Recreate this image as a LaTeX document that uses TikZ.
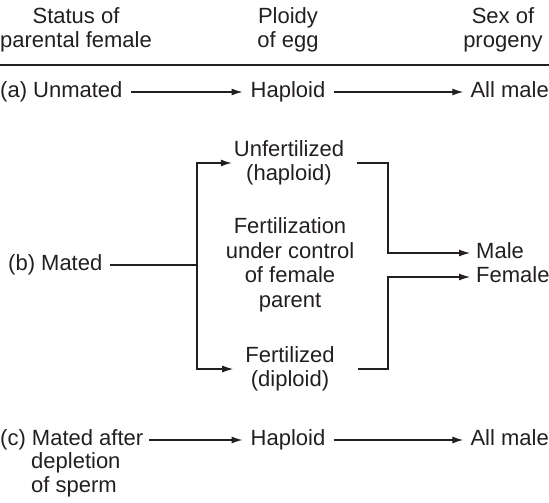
\documentclass[tikz,border=0pt]{standalone}
\usepackage{fontspec}
\setmainfont{Liberation Sans}
\usetikzlibrary{arrows.meta}
\definecolor{ink}{RGB}{35,31,32}

\begin{document}
\begin{tikzpicture}[
    x=1pt, y=-1pt,
    every node/.style={font=\fontsize{22}{24.5}\selectfont, text=ink}, % Шрифт
    txt/.style={inner sep=0pt, text height=15pt, text depth=5pt}, % Однострочный текст
    multi/.style={inner sep=0pt, align=center}, % Многострочный текст
    line/.style={line width=1.2pt, draw=ink}, % Линия
    arr/.style={line, -{Latex[length=11pt,width=7pt]}} % Стрелка
]
    \useasboundingbox (0,0) rectangle (549,503);

    % Заголовки
    \node[multi] (status) at (76,30) {Status of\\parental female};
    \node[multi] (ploidy) at (288,30) {Ploidy\\of egg};
    \node[multi] (sex) at (503,30) {Sex of\\progeny};
    \draw[line] (0,65) -- (549,65);

    % (a)
    \node[txt, anchor=west] (unmA) at (0,92) {(a) Unmated};
    \node[txt] (haplA) at (288,92) {Haploid};
    \node[txt, anchor=east] (allA) at (549,92) {All male};
    \draw[arr, shorten <=8pt, shorten >=8pt] (unmA) -- (haplA);
    \draw[arr, shorten <=8pt, shorten >=7pt] (haplA) -- (allA);

    % (b)
    \node[txt, anchor=west] (mated) at (8,265) {(b) Mated};
    \coordinate (split) at (197,265);
    \coordinate (junction) at (388,265);
    \node[multi] (unfert) at (289,163) {Unfertilized\\(haploid)};
    \node[multi] (control) at (290,265) {Fertilization\\under control\\of female\\parent};
    \node[multi] (fert) at (290,369) {Fertilized\\(diploid)};
    \node[txt, anchor=west] (male) at (476,253) {Male};
    \node[txt, anchor=west] (female) at (476,277) {Female};

    \draw[line, shorten <=7pt] (mated) -- (split);
    \draw[arr, shorten >=2pt] (split) |- (unfert);
    \draw[arr, shorten >=12pt] (split) |- (fert);
    \draw[arr, shorten <=13pt, shorten >=6pt] (unfert) -| (junction |- male) -- (male);
    \draw[arr, shorten <=23pt, shorten >=6pt] (fert) -| (junction |- female) -- (female);

    % (c)
    \node[txt, anchor=west] (matedC) at (0,440) {(c) Mated after};
    \node[txt, anchor=west] (depl) at (31,463) {depletion};
    \node[txt, anchor=west] (sperm) at (31,487) {of sperm};
    \node[txt] (haplC) at (288,440) {Haploid};
    \node[txt, anchor=east] (allC) at (549,440) {All male};
    \draw[arr, shorten <=6pt, shorten >=8pt] (matedC) -- (haplC);
    \draw[arr, shorten <=8pt, shorten >=7pt] (haplC) -- (allC);

\end{tikzpicture}
\end{document}
